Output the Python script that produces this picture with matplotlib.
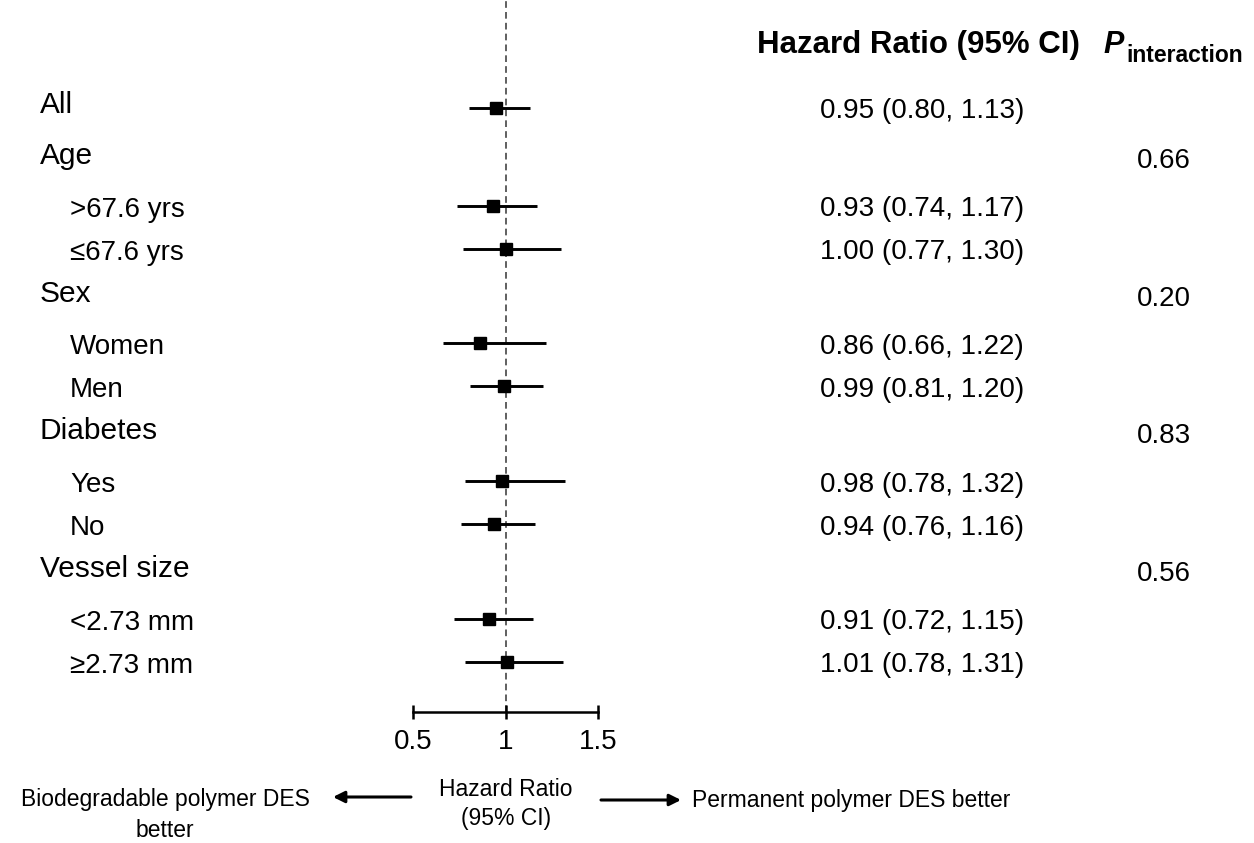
import numpy as np
import matplotlib.pyplot as plt
import matplotlib.transforms as mtransforms
from matplotlib.patches import FancyArrowPatch

plt.rcParams["font.family"] = ["Liberation Sans", "DejaVu Sans"]

# ================= DATA =================
labels = ["All", "Age", ">67.6 yrs", "≤67.6 yrs", "Sex", "Women", "Men",
          "Diabetes", "Yes", "No", "Vessel size", "<2.73 mm", "≥2.73 mm"]
is_sub = [False, False, True, True, False, True, True,
          False, True, True, False, True, True]
hr = [0.95, np.nan, 0.93, 1.00, np.nan, 0.86, 0.99,
      np.nan, 0.98, 0.94, np.nan, 0.91, 1.01]
ci_lo = [0.80, np.nan, 0.74, 0.77, np.nan, 0.66, 0.81,
         np.nan, 0.78, 0.76, np.nan, 0.72, 0.78]
ci_hi = [1.13, np.nan, 1.17, 1.30, np.nan, 1.22, 1.20,
         np.nan, 1.32, 1.16, np.nan, 1.15, 1.31]
p_int = ["", "0.66", "", "", "0.20", "", "",
         "0.83", "", "", "0.56", "", ""]
x_ticks = [0.5, 1, 1.5]

# ================= LAYOUT =================
W, H = 1254, 843
ax_left, ax_right, ax_bottom_px = 413, 598, 712

# row positions in pixels from the top, spacing depends on row type
row_y = [108.0]
for i in range(1, len(labels)):
    if i == 1:
        gap = 51
    elif is_sub[i] and is_sub[i - 1]:
        gap = 43
    elif is_sub[i]:
        gap = 46.7
    else:
        gap = 48
    row_y.append(row_y[-1] + gap)
row_y = np.array(row_y)

fig = plt.figure(figsize=(W / 100, H / 100), dpi=100)
ax = fig.add_axes([ax_left / W, (H - ax_bottom_px) / H,
                   (ax_right - ax_left) / W, ax_bottom_px / H])
ax.set_xlim(0.5, 1.5)
ax.set_ylim(ax_bottom_px, 0)

# ================= FOREST =================
hr_a = np.array(hr)
lo_a = np.array(ci_lo)
hi_a = np.array(ci_hi)
ok = ~np.isnan(hr_a)

ax.hlines(row_y[ok], lo_a[ok], hi_a[ok], color="black", lw=2.1,
          clip_on=False, zorder=2)
ax.plot(hr_a[ok], row_y[ok], "s", color="black", ms=9, clip_on=False, zorder=3)
ax.axvline(1, color="#444444", lw=1.2, ls=(0, (4, 2.5)), zorder=1)

for s in ["top", "right", "left"]:
    ax.spines[s].set_visible(False)
ax.spines["bottom"].set_linewidth(1.8)
ax.set_yticks([])
ax.set_xticks(x_ticks)
ax.set_xticklabels(["0.5", "1", "1.5"])
ax.tick_params(axis="x", direction="inout", length=10, width=1.8,
               labelsize=20, pad=7)

# ================= TEXT COLUMNS =================
trans = mtransforms.blended_transform_factory(fig.transFigure, ax.transData)

for i, lab in enumerate(labels):
    if is_sub[i]:
        ax.text(70 / W, row_y[i] + 11, lab, transform=trans, ha="left",
                va="baseline", fontsize=20)
    else:
        ax.text(40 / W, row_y[i] + 5, lab, transform=trans, ha="left",
                va="baseline", fontsize=21.5)
    if ok[i]:
        ax.text(820 / W, row_y[i] + 10.5,
                f"{hr[i]:.2f} ({ci_lo[i]:.2f}, {ci_hi[i]:.2f})",
                transform=trans, ha="left", va="baseline", fontsize=20)
    if p_int[i]:
        ax.text(1191 / W, row_y[i] + 9, p_int[i], transform=trans,
                ha="right", va="baseline", fontsize=20)

# headers
fig.text(1080 / W, 1 - 53 / H, "Hazard Ratio (95% CI)", ha="right",
         va="baseline", fontsize=22.5, fontweight="bold")
fig.text(1103 / W, 1 - 53 / H, "P", ha="left", va="baseline",
         fontsize=22, fontweight="bold", fontstyle="italic")
fig.text(1126 / W, 1 - 62 / H, "interaction", ha="left", va="baseline",
         fontsize=16.5, fontweight="bold")

# ================= BOTTOM ANNOTATION =================
fig.text(165 / W, 1 - 815 / H, "Biodegradable polymer DES\nbetter",
         ha="center", va="center", fontsize=16.5, linespacing=1.45)
fig.text(506 / W, 1 - 804 / H, "Hazard Ratio\n(95% CI)",
         ha="center", va="center", fontsize=16.5, linespacing=1.35)
fig.text(692 / W, 1 - 800 / H, "Permanent polymer DES better",
         ha="left", va="center", fontsize=16.5)

arrow = dict(arrowstyle="-|>", color="black", lw=2.2, mutation_scale=17,
             shrinkA=0, shrinkB=0)
fig.add_artist(FancyArrowPatch((411 / W, 1 - 797 / H), (333 / W, 1 - 797 / H),
                               transform=fig.transFigure, **arrow))
fig.add_artist(FancyArrowPatch((601 / W, 1 - 800 / H), (681 / W, 1 - 800 / H),
                               transform=fig.transFigure, **arrow))

fig.savefig("out.png", dpi=100)
